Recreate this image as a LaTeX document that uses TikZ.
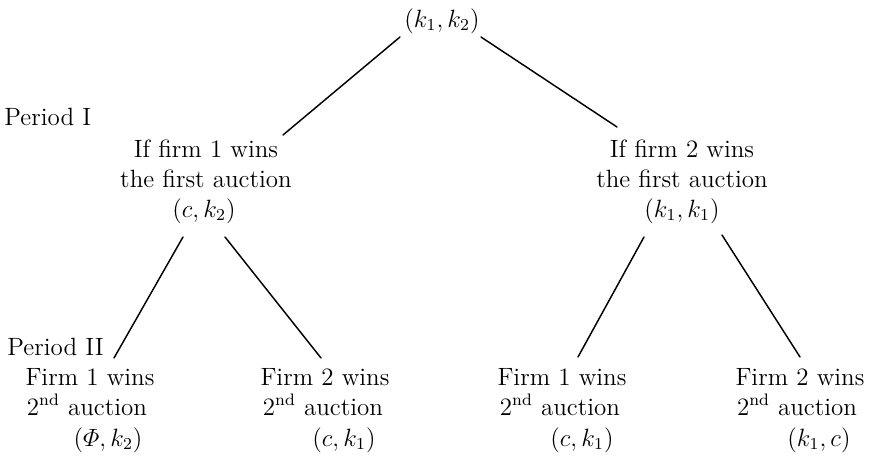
\documentclass[tikz,border=0pt]{standalone}
\usepackage{amsmath}
\begin{document}
\begin{tikzpicture}[x=0.48pt,y=-0.48pt,
  txt/.style={font=\fontsize{12}{14.4}\selectfont, inner sep=0pt, anchor=base},
  lft/.style={txt, anchor=base west},
  branch/.style={line width=0.7pt, line cap=round}]
\useasboundingbox (0,0) rectangle (869,456);
% texts
\node[txt] (root) at (442,27) {$(k_1,k_2)$};
\node[lft] (p1) at (4,125) {Period I};
\node[txt] (a1) at (206,157) {If firm 1 wins};
\node[txt] (a2) at (206,187) {the first auction};
\node[txt] (a3) at (204,217) {$(c,k_2)$};
\node[txt] (b1) at (682,157) {If firm 2 wins};
\node[txt] (b2) at (682,187) {the first auction};
\node[txt] (b3) at (682,217) {$(k_1,k_1)$};
\node[lft] (p2) at (7,355) {Period II};
\node[txt] (c1) at (90,385) {Firm 1 wins};
\node[txt] (c2) at (87,415) {2\textsuperscript{nd} auction};
\node[txt] (c3) at (108,446) {$(\varPhi,k_2)$};
\node[txt] (d1) at (325,385) {Firm 2 wins};
\node[txt] (d2) at (323,415) {2\textsuperscript{nd} auction};
\node[txt] (d3) at (344,446) {$(c,k_1)$};
\node[txt] (e1) at (562,385) {Firm 1 wins};
\node[txt] (e2) at (560,415) {2\textsuperscript{nd} auction};
\node[txt] (e3) at (582,446) {$(c,k_1)$};
\node[txt] (f1) at (800,385) {Firm 2 wins};
\node[txt] (f2) at (797,415) {2\textsuperscript{nd} auction};
\node[txt] (f3) at (819,446) {$(k_1,c)$};
% connector end points
\coordinate (rootL) at (400,37);
\coordinate (rootR) at (481,37);
\coordinate (aTop) at (283,135);
\coordinate (bTop) at (617,127);
\coordinate (aL) at (183,237);
\coordinate (aR) at (225,237);
\coordinate (bL) at (644,237);
\coordinate (bR) at (722,235);
\coordinate (cTop) at (114,358);
\coordinate (dTop) at (321,358);
\coordinate (eTop) at (578,357);
\coordinate (fTop) at (800,357);
% connectors
\draw[branch] (rootL) -- (aTop);
\draw[branch] (rootR) -- (bTop);
\draw[branch] (aL) -- (cTop);
\draw[branch] (aR) -- (dTop);
\draw[branch] (bL) -- (eTop);
\draw[branch] (bR) -- (fTop);
\end{tikzpicture}
\end{document}
